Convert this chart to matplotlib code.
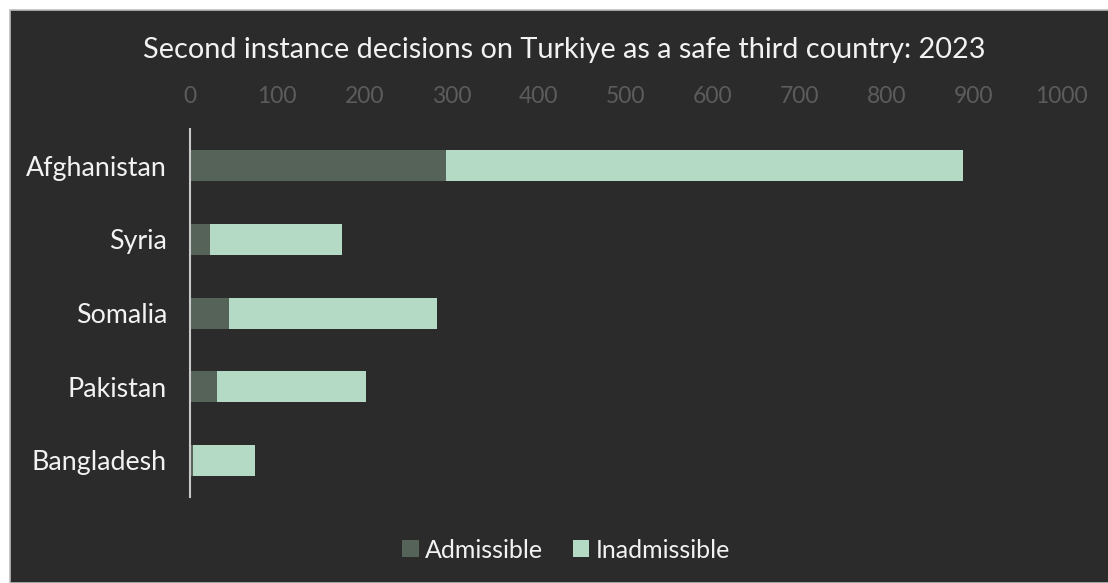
import matplotlib
matplotlib.use("Agg")
import matplotlib.pyplot as plt
from matplotlib.patches import Rectangle, Patch

countries = ["Afghanistan", "Syria", "Somalia", "Pakistan", "Bangladesh"]
admissible = [294, 23, 45, 31, 4]
inadmissible = [593, 152, 239, 171, 71]
ticks = [0, 100, 200, 300, 400, 500, 600, 700, 800, 900, 1000]
title = "Second instance decisions on Turkiye as a safe third country: 2023"

W, H = 1108, 583
BG = "#2b2b2b"
C_ADM = "#556359"
C_INA = "#b4d9c4"

plt.rcParams["font.family"] = ["Lato", "DejaVu Sans"]

fig = plt.figure(figsize=(W / 100, H / 100), dpi=100, facecolor="white")
fig.patches.append(Rectangle((9.5 / W, 0), 1 - 9.5 / W + 0.01, 1 - 10 / H,
                             transform=fig.transFigure, facecolor=BG,
                             edgecolor="#bdbdbd", linewidth=1.2, zorder=-10))

ax = fig.add_axes([190 / W, 1 - 497.3 / H, (1061 - 190) / W, (497.3 - 128.9) / H])
ax.set_zorder(5)
ax.patch.set_alpha(0)

y = list(range(len(countries)))
ax.barh(y, admissible, height=0.42, color=C_ADM, label="Admissible")
ax.barh(y, inadmissible, left=admissible, height=0.42, color=C_INA, label="Inadmissible")

ax.set_xlim(0, 1000)
ax.set_ylim(4.5, -0.5)
ax.set_yticks(y)
ax.set_yticklabels(countries, fontsize=19.3, color="#f2f2f2")
ax.xaxis.tick_top()
ax.set_xticks(ticks)
ax.set_xticklabels([str(t) for t in ticks], fontsize=16.5, color="#5c5c5c")
ax.tick_params(axis="both", length=0)
ax.tick_params(axis="x", pad=15.5)
ax.tick_params(axis="y", pad=16.5)
for s in ["top", "right", "bottom"]:
    ax.spines[s].set_visible(False)
ax.spines["left"].set_color("#c8c8c8")
ax.spines["left"].set_linewidth(1.5)

fig.text(564 / W, 1 - 50 / H, title, ha="center", va="center", fontsize=20.8, color="#f2f2f2")

handles = [Patch(facecolor=C_ADM, label="Admissible"), Patch(facecolor=C_INA, label="Inadmissible")]
leg = fig.legend(handles=handles, loc="center", bbox_to_anchor=(566 / W, 1 - 550 / H), ncol=2,
                 frameon=False, fontsize=18, handlelength=0.65, handleheight=0.65,
                 handletextpad=0.25, columnspacing=1.2)
for t in leg.get_texts():
    t.set_color("#f2f2f2")

fig.savefig("out.png", dpi=100, facecolor="white")
